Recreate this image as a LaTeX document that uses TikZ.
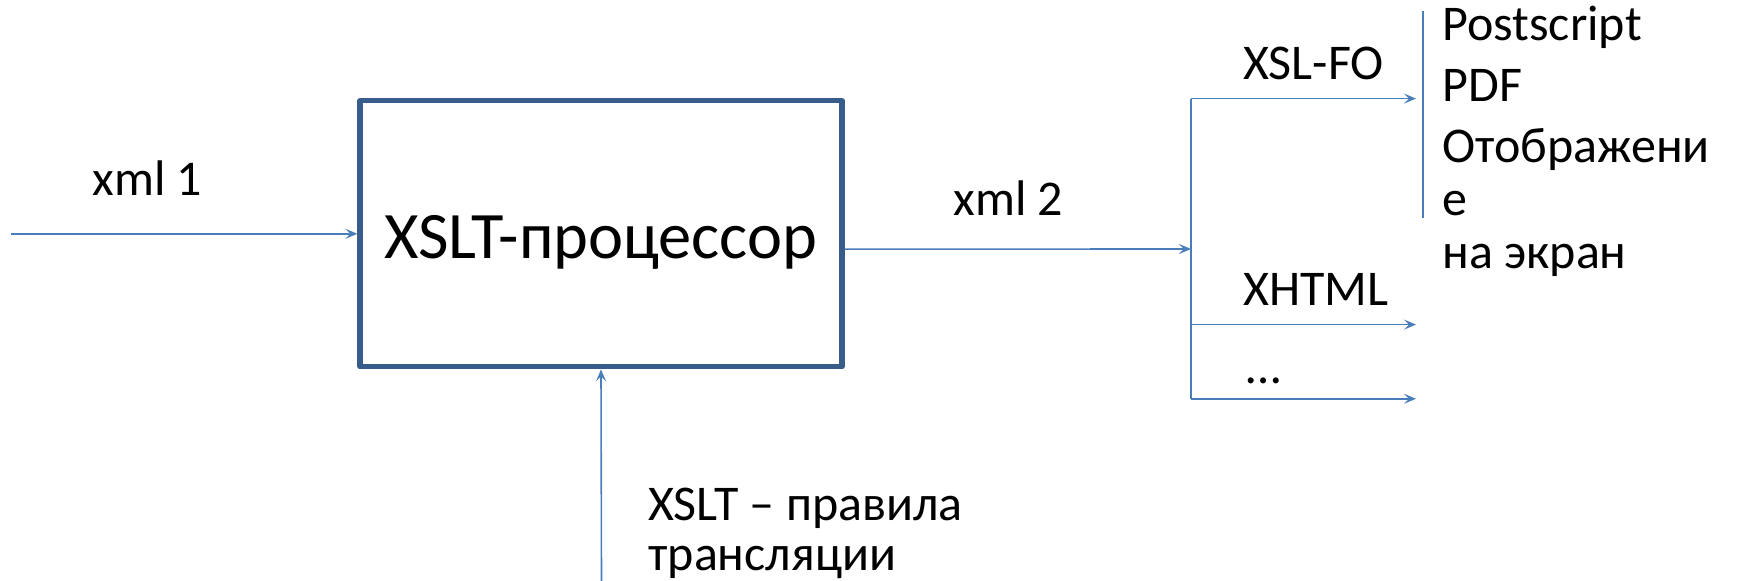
\documentclass[tikz,border=0pt]{standalone}
\usepackage{fontspec}
\setmainfont{Carlito}
\usetikzlibrary{arrows.meta}
\definecolor{lineblue}{HTML}{4A7EBB}
\definecolor{boxblue}{HTML}{385D8A}
\begin{document}
\begin{tikzpicture}[x=0.5pt,y=-0.5pt,
  conn/.style={draw=lineblue, line width=0.8pt},
  arr/.style={conn,-{Stealth[length=6pt,width=5pt,inset=2.5pt]}},
  lbl/.style={anchor=base west, inner sep=0pt, font=\fontsize{25}{28.5}\selectfont},
  proc/.style={draw=boxblue, line width=2.6pt, line join=round, minimum width=241pt, minimum height=133pt,
    inner sep=0pt, text height=25pt, text depth=0pt, font=\fontsize{33.2}{36}\selectfont}]
\useasboundingbox (0,0) rectangle (1737,581);
\node[proc] (p) at (601,233.8) {XSLT-процессор};
\coordinate (in) at (11,233.8);
\draw[arr] (in) -- (p.west);
\coordinate (os) at ([yshift=-7.7pt]p.east);
\coordinate (j) at (1191,249);
\coordinate (j1) at (1191,98.6);
\coordinate (j2) at (1191,324.6);
\coordinate (j3) at (1191,398.8);
\coordinate (e1) at (1416,98.6);
\coordinate (e2) at (1416,324.6);
\coordinate (e3) at (1416,398.8);
\draw[arr] (os) -- (j);
\draw[conn] (j1) -- (j3);
\draw[arr] (j1) -- (e1);
\draw[arr] (j2) -- (e2);
\draw[arr] (j3) -- (e3);
\coordinate (b1) at (1422.5,11);
\coordinate (b2) at (1422.5,218);
\draw[conn, line width=1pt] (b1) -- (b2);
\coordinate (bin) at (601.5,581);
\draw[arr] (bin) -- (p.south);
\node[lbl] (xml1) at (92,196) {xml 1};
\node[lbl] (xml2) at (953,216) {xml 2};
\node[lbl] (xslfo) at (1243,80) {XSL-FO};
\node[lbl] (xhtml) at (1243,306) {XHTML};
\node[lbl] (dots) at (1246,384) {…};
\node[lbl] (t1) at (1442,41) {Postscript};
\node[lbl] (t2) at (1442,102) {PDF};
\node[lbl] (t3) at (1442,163) {Отображени};
\node[lbl] (t4) at (1442,216) {е};
\node[lbl] (t5) at (1442,269) {на экран};
\node[lbl] (r1) at (648,521) {XSLT – правила};
\node[lbl] (r2) at (648,571) {трансляции};
\end{tikzpicture}
\end{document}
